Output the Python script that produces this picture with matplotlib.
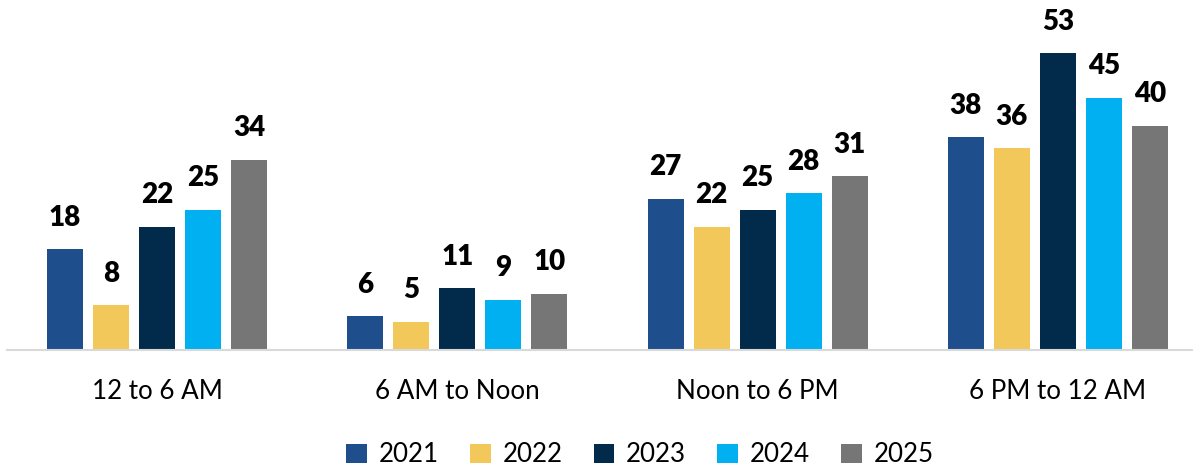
import numpy as np
import matplotlib
matplotlib.use('Agg')
import matplotlib.pyplot as plt

# data
categories = ['12 to 6 AM', '6 AM to Noon', 'Noon to 6 PM', '6 PM to 12 AM']
years = ['2021', '2022', '2023', '2024', '2025']
v2021 = [18, 6, 27, 38]
v2022 = [8, 5, 22, 36]
v2023 = [22, 11, 25, 53]
v2024 = [25, 9, 28, 45]
v2025 = [34, 10, 31, 40]
series = [v2021, v2022, v2023, v2024, v2025]

colors = ['#1f4e8c', '#f2c85b', '#022b4b', '#00b0f0', '#767676']

plt.rcParams['font.family'] = ['Lato', 'DejaVu Sans']

fig = plt.figure(figsize=(11.93, 4.71), dpi=100)
ax = fig.add_axes([7/1193, 121/471, 1 - 7/1193, 350/471])

x = np.arange(len(categories))
step = 46/300.
width = 36/300.

for i, (yr, vals) in enumerate(zip(years, series)):
    xs = x + (i - 2)*step
    bars = ax.bar(xs, vals, width, color=colors[i], label=yr)
    for xi, v in zip(xs, vals):
        ax.annotate(str(v), (xi, v), xytext=(0, 17), textcoords='offset points',
                    ha='center', va='baseline', fontsize=20, fontweight='heavy',
                    color='black')

ax.set_xlim(-0.5, 3.45)
ax.set_ylim(0, 62.5)
ax.set_xticks(x)
ax.set_xticklabels(categories, fontsize=18.7)
ax.tick_params(axis='x', length=0, pad=21)
ax.set_yticks([])
for s in ['top', 'right', 'left']:
    ax.spines[s].set_visible(False)
ax.spines['bottom'].set_color('#d9d9d9')
ax.spines['bottom'].set_linewidth(1.5)

fig.legend(loc='center', bbox_to_anchor=(640/1193, 1 - 455/471), ncol=5,
           frameon=False, fontsize=18.7, handlelength=0.8, handleheight=0.8,
           handletextpad=0.45, columnspacing=1.2)

plt.savefig('out.png', dpi=100)
